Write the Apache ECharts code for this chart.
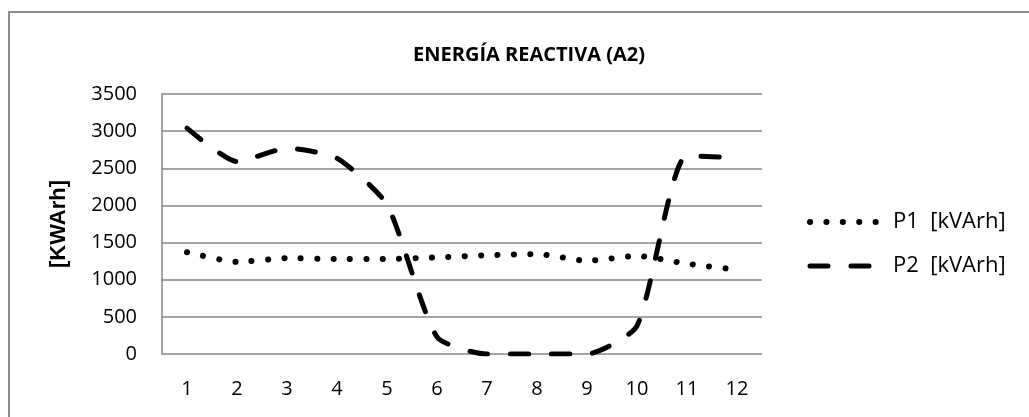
<!DOCTYPE html>
<html>
<head>
<meta charset="utf-8">
<script src="https://cdn.jsdelivr.net/npm/echarts@6/dist/echarts.min.js"></script>
<style>
  html, body { margin: 0; padding: 0; background: #fff; }
  #chart { width: 1029px; height: 417px; }
</style>
</head>
<body>
<div id="chart"></div>
<script>
// meses
const categories = ['1', '2', '3', '4', '5', '6', '7', '8', '9', '10', '11', '12'];
const p1Values = [1370, 1240, 1290, 1280, 1280, 1300, 1330, 1345, 1255, 1320, 1215, 1135];
const p2Values = [3040, 2590, 2770, 2635, 2010, 230, 0, 0, 0, 380, 2670, 2640];
const yTicks = [0, 500, 1000, 1500, 2000, 2500, 3000, 3500];

const chart = echarts.init(document.getElementById('chart'));
const gridColor = '#868686';

const p1Line = { color: '#000', width: 6, type: [0.1, 16.3], cap: 'round' };
const p2Line = { color: '#000', width: 5, type: [18, 23], cap: 'round' };

let option = {
  backgroundColor: '#fff',
  animation: false,
  title: {
    text: 'ENERGÍA REACTIVA (A2)',
    left: 524,
    top: 40,
    textAlign: 'center',
    textStyle: {
      fontFamily: 'Open Sans',
      fontWeight: 'bold',
      fontSize: 20,
      color: '#000'
    }
  },
  graphic: [{
    type: 'rect',
    shape: { x: 9, y: 12, width: 1100, height: 500 },
    style: { fill: 'none', stroke: '#8c8c8c', lineWidth: 2 },
    silent: true
  }],
  legend: {
    orient: 'vertical',
    left: 802,
    top: 206,
    itemWidth: 68,
    itemHeight: 14,
    itemGap: 22,
    textStyle: {
      fontFamily: 'Open Sans',
      fontSize: 22,
      color: '#000',
      padding: [0, 0, 0, 10]
    },
    itemStyle: { opacity: 0 },
    data: [
      { name: 'P1  [kVArh]', lineStyle: p1Line },
      { name: 'P2  [kVArh]', lineStyle: p2Line }
    ]
  },
  grid: {
    left: 162,
    right: 267,
    top: 94,
    bottom: 63
  },
  xAxis: {
    type: 'category',
    data: categories,
    boundaryGap: true,
    axisTick: { show: false },
    axisLine: { show: false },
    axisLabel: {
      margin: 25,
      fontFamily: 'Open Sans',
      fontSize: 20,
      color: '#000'
    }
  },
  yAxis: {
    type: 'value',
    min: yTicks[0],
    max: yTicks[yTicks.length - 1],
    interval: 500,
    name: '[KWArh]',
    nameLocation: 'middle',
    nameRotate: 90,
    nameGap: 92,
    nameTextStyle: {
      fontFamily: 'Liberation Sans',
      fontWeight: 'bold',
      fontSize: 22,
      color: '#000'
    },
    axisLine: { show: true, lineStyle: { color: gridColor, width: 1.5 } },
    axisTick: { show: false },
    axisLabel: {
      margin: 25,
      fontFamily: 'Open Sans',
      fontSize: 20,
      color: '#000',
      formatter: v => String(v)
    },
    splitLine: { lineStyle: { color: gridColor, width: 1.5 } }
  },
  series: [
    {
      name: 'P1  [kVArh]',
      type: 'line',
      data: p1Values,
      smooth: 0.2,
      symbol: 'none',
      lineStyle: p1Line,
      itemStyle: { color: '#000' },
      z: 3
    },
    {
      name: 'P2  [kVArh]',
      type: 'line',
      data: p2Values,
      smooth: 0.2,
      symbol: 'none',
      lineStyle: p2Line,
      itemStyle: { color: '#000' },
      z: 4
    }
  ]
};
chart.setOption(option);
</script>
</body>
</html>
